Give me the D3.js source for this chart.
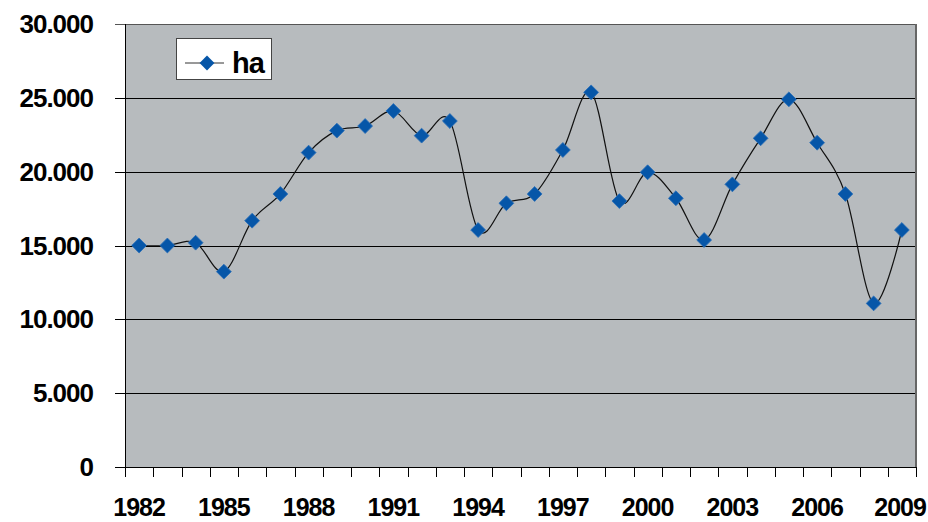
<!DOCTYPE html>
<html>
<head>
<meta charset="utf-8">
<script src="https://cdn.jsdelivr.net/npm/d3@7"></script>
<style>
  body { margin: 0; background: #fff; }
  text { font-family: "Liberation Sans", Arial, sans-serif; font-weight: bold; }
</style>
</head>
<body>
<svg id="chart" width="928" height="522"></svg>
<script>
const years = d3.range(1982, 2010).map(String);
const hectares = [15000, 15000, 15190, 13230, 16680, 18490, 21290, 22780, 23090, 24110,
  22440, 23430, 16050, 17860, 18490, 21470, 25370, 18010, 19960, 18200,
  15370, 19140, 22260, 24900, 21960, 18490, 11080, 16050];
const yTicks = [0, 5000, 10000, 15000, 20000, 25000, 30000];
const xLabels = ["1982", "1985", "1988", "1991", "1994", "1997", "2000", "2003", "2006", "2009"];
const seriesName = "ha";

const width = 928;
const height = 522;
const margin = { top: 24, right: 12, bottom: 55, left: 125 };

const svg = d3.select("#chart");

const x = d3.scaleBand()
  .domain(years)
  .range([margin.left, width - margin.right]);

const y = d3.scaleLinear()
  .domain([0, 30000])
  .range([height - margin.bottom, margin.top]);

const fmt = v => v === 0 ? "0" : d3.format(",")(v).replace(/,/g, ".");

// plot area
svg.append("rect")
  .attr("x", margin.left)
  .attr("y", margin.top)
  .attr("width", x.range()[1] - margin.left)
  .attr("height", y(0) - margin.top)
  .attr("fill", "#b7bbbe");

// gridlines + y ticks
svg.append("g")
  .selectAll("line")
  .data(yTicks)
  .join("line")
  .attr("x1", margin.left - 10)
  .attr("x2", x.range()[1])
  .attr("y1", d => Math.round(y(d)) + 0.5)
  .attr("y2", d => Math.round(y(d)) + 0.5)
  .attr("stroke", d => d === 30000 ? "#555" : "#000")
  .attr("stroke-width", 1);

// right border
svg.append("line")
  .attr("x1", x.range()[1])
  .attr("x2", x.range()[1])
  .attr("y1", margin.top)
  .attr("y2", y(0))
  .attr("stroke", "#666")
  .attr("stroke-width", 2);

// left axis line
svg.append("line")
  .attr("x1", margin.left + 0.5)
  .attr("x2", margin.left + 0.5)
  .attr("y1", margin.top)
  .attr("y2", y(0))
  .attr("stroke", "#000");

// y labels
svg.append("g")
  .selectAll("text")
  .data(yTicks)
  .join("text")
  .attr("x", 93)
  .attr("y", d => y(d))
  .attr("dy", "0.35em")
  .attr("text-anchor", "end")
  .attr("font-size", "26px")
  .attr("letter-spacing", "-1px")
  .text(fmt);

// x ticks at category boundaries
const edges = years.map(d => x(d)).concat([x.range()[1]]);
svg.append("g")
  .selectAll("line")
  .data(edges)
  .join("line")
  .attr("x1", d => Math.round(d) + 0.5)
  .attr("x2", d => Math.round(d) + 0.5)
  .attr("y1", y(0))
  .attr("y2", y(0) + 10)
  .attr("stroke", "#000");

// x labels
const xAxis = d3.axisBottom(x).tickValues(xLabels).tickSize(0).tickPadding(0);
const gx = svg.append("g")
  .attr("transform", `translate(0, ${y(0)})`)
  .call(xAxis);
gx.select(".domain").remove();
gx.selectAll("text")
  .attr("y", 49)
  .attr("dy", 0)
  .attr("fill", "#000")
  .attr("font-size", "25px")
  .attr("letter-spacing", "-1px")
  .attr("font-family", "Liberation Sans, Arial, sans-serif")
  .attr("font-weight", "bold");
// keep the last label inside the page
gx.selectAll(".tick").each(function () {
  const t = d3.select(this).select("text");
  const b = this.getBBox();
  const m = this.getCTM();
  const right = m.e + b.x + b.width;
  if (right > width - 2) t.attr("x", width - 2 - right);
});

// smoothed line
const line = d3.line()
  .x((d, i) => x(years[i]) + x.bandwidth() / 2)
  .y(d => y(d))
  .curve(d3.curveCatmullRom.alpha(0));

svg.append("path")
  .datum(hectares)
  .attr("fill", "none")
  .attr("stroke", "#111")
  .attr("stroke-width", 1.2)
  .attr("d", line);

// diamond markers
const diamond = d3.symbol().type(d3.symbolSquare).size(110);
svg.append("g")
  .selectAll("path")
  .data(hectares)
  .join("path")
  .attr("transform", (d, i) => `translate(${x(years[i]) + x.bandwidth() / 2}, ${y(d)}) rotate(45)`)
  .attr("d", diamond)
  .attr("fill", "#0656a8")
  .attr("stroke", "#2a6fb8")
  .attr("stroke-width", 0.8);

// legend
const legend = svg.append("g").attr("transform", "translate(176, 38)");
legend.append("rect")
  .attr("x", 0.5)
  .attr("y", 0.5)
  .attr("width", 95)
  .attr("height", 41)
  .attr("fill", "#fff")
  .attr("stroke", "#444");
legend.append("line")
  .attr("x1", 9)
  .attr("x2", 48)
  .attr("y1", 25)
  .attr("y2", 25)
  .attr("stroke", "#333");
legend.append("path")
  .attr("transform", "translate(31, 25) rotate(45)")
  .attr("d", diamond)
  .attr("fill", "#0656a8");
legend.append("text")
  .attr("x", 56)
  .attr("y", 35)
  .attr("font-size", "29px")
  .attr("letter-spacing", "-1px")
  .text(seriesName);
</script>
</body>
</html>
